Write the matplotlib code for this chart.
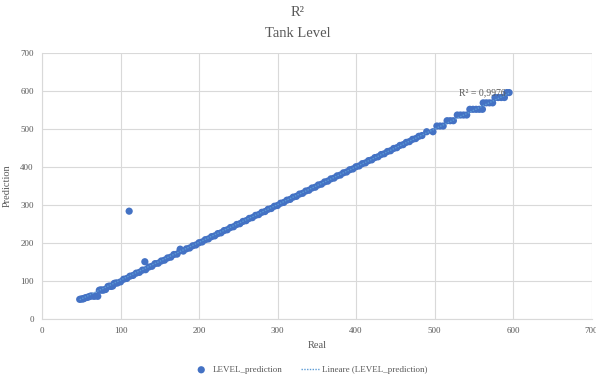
import matplotlib.pyplot as plt
import numpy as np

# values (Real vs LEVEL_prediction)
real_low = [48, 50, 52, 53, 55, 57, 59, 61, 63, 66, 68, 71,
            73, 75, 77, 79, 81, 84, 86, 88, 90, 92, 94]
pred_low = [52, 53, 53, 54, 56, 57, 58, 60, 61, 60, 61, 60,
            76, 77, 76, 77, 78, 86, 87, 86, 87, 94, 95]

real_mid = [96, 100, 104, 108, 112, 116, 120, 124, 128, 132, 136, 140, 144, 148,
            152, 156, 160, 164, 168, 172, 176, 180, 184, 188, 192, 196, 200, 204,
            208, 212, 216, 220, 224, 228, 232, 236, 240, 244, 248, 252, 256, 260,
            264, 268, 272, 276, 280, 284, 288, 292, 296, 300, 304, 308, 312, 316,
            320, 324, 328, 332, 336, 340, 344, 348, 352, 356, 360, 364, 368, 372,
            376, 380, 384, 388, 392, 396, 400, 404, 408, 412, 416, 420, 424, 428,
            432, 436, 440, 444, 448, 452, 456, 460, 464, 468, 472, 476, 480, 484]
pred_mid = [95, 98, 105, 107, 113, 115, 121, 123, 129, 130, 137, 139, 146, 147,
            153, 155, 161, 163, 170, 171, 180, 179, 185, 187, 193, 195, 201, 203,
            209, 211, 217, 219, 225, 227, 233, 235, 241, 243, 249, 251, 257, 259,
            265, 267, 273, 275, 281, 283, 289, 291, 297, 299, 305, 307, 313, 315,
            321, 323, 329, 331, 337, 339, 345, 347, 353, 355, 361, 363, 369, 371,
            377, 379, 385, 387, 393, 395, 401, 403, 409, 411, 417, 419, 425, 427,
            433, 435, 441, 443, 449, 451, 457, 459, 465, 467, 473, 475, 481, 483]

real_high = [490, 498, 503, 507, 511, 516, 520, 524, 529, 533, 537, 541, 545, 549,
             553, 557, 561, 562, 566, 570, 574, 577, 581, 585, 589, 592, 595]
pred_high = [493, 493, 508, 508, 508, 522, 522, 522, 537, 537, 537, 537, 552, 552,
             552, 552, 552, 569, 569, 569, 569, 583, 583, 583, 583, 596, 596]

real_out = [111, 131, 176]
pred_out = [284, 151, 184]

r2_label = "R² = 0,9976"

real = np.array(real_low + real_mid + real_high + real_out, dtype=float)
pred = np.array(pred_low + pred_mid + pred_high + pred_out, dtype=float)

plt.rcParams["font.family"] = ["Liberation Serif", "DejaVu Serif"]
grey = "#595959"
grid_c = "#d9d9d9"

fig = plt.figure(figsize=(5.96, 3.79), dpi=100)
ax = fig.add_axes([0.0705, 0.158, 0.922, 0.702])

ax.scatter(real, pred, s=27, color="#4472c4", edgecolors="none", zorder=3,
           label="LEVEL_prediction")

# linear trend line
coef = np.polyfit(real, pred, 1)
xs = np.array([real.min(), real.max()])
ax.plot(xs, np.polyval(coef, xs), linestyle=(0, (1, 1)), color="#5b9bd5",
        linewidth=1, zorder=4, label="Lineare (LEVEL_prediction)")

ax.text(531, 596, r2_label, fontsize=7, color=grey, va="center", zorder=5)

ax.set_xlim(0, 700)
ax.set_ylim(0, 700)
ax.set_xticks(range(0, 701, 100))
ax.set_yticks(range(0, 701, 100))
ax.grid(True, color=grid_c, linewidth=0.8)
ax.set_axisbelow(True)
for side in ["top", "right"]:
    ax.spines[side].set_visible(False)
for side in ["left", "bottom"]:
    ax.spines[side].set_color(grid_c)
ax.tick_params(length=0, labelsize=6.5, labelcolor=grey, pad=6)

ax.set_xlabel("Real", fontsize=7.5, color=grey, labelpad=4)
ax.set_ylabel("Prediction", fontsize=7.5, color=grey, labelpad=6)

fig.text(0.5, 0.968, "R²", ha="center", va="center", fontsize=10.5, color=grey)
fig.text(0.5, 0.912, "Tank Level", ha="center", va="center", fontsize=10.5, color=grey)

ax.legend(loc="upper center", bbox_to_anchor=(0.487, -0.145), ncol=2, frameon=False,
          fontsize=6.5, labelcolor=grey, handlelength=2.0, columnspacing=2.0,
          handletextpad=0.3)

fig.savefig("out.png", dpi=100)
